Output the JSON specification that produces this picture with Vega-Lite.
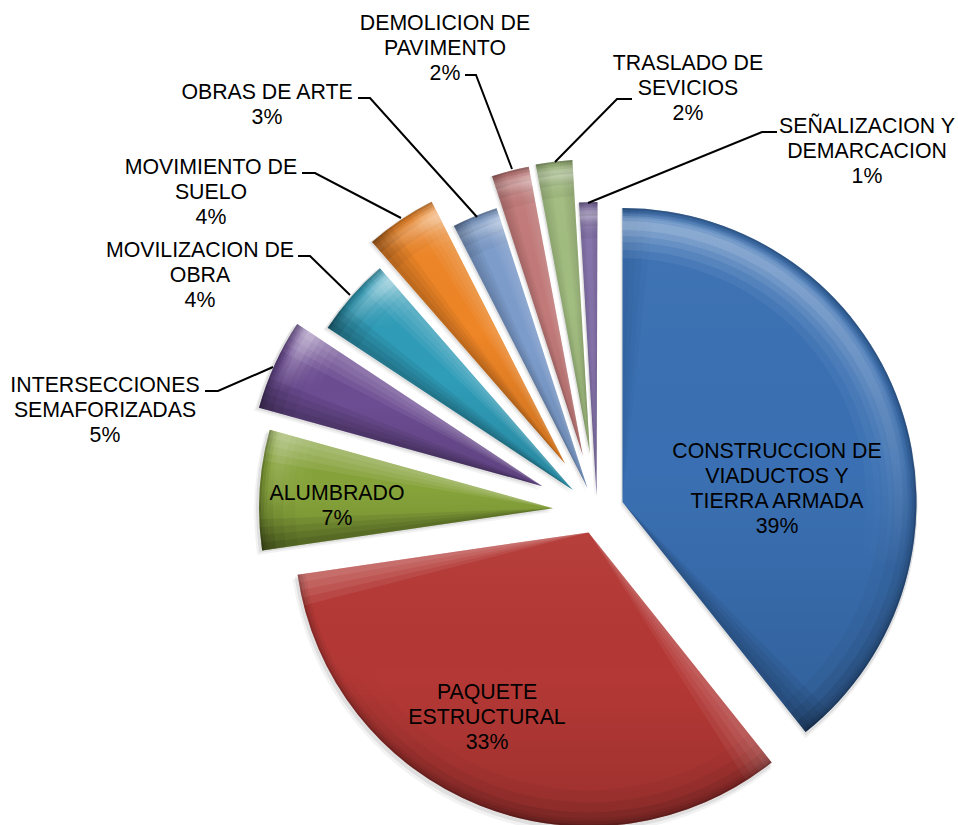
{
"$schema":"https://vega.github.io/schema/vega-lite/v6.json",
"width":958,"height":825,"padding":0,"autosize":"none","background":"white",
"config":{"view":{"stroke":null}},
"datasets":{
"slices":[
{"ord":1,"name":"CONSTRUCCION DE VIADUCTOS Y TIERRA ARMADA","pct":39.3,"explode":27,"label":"CONSTRUCCION DE\nVIADUCTOS Y\nTIERRA ARMADA\n39%","lx":180,"ly":59},
{"ord":2,"name":"PAQUETE ESTRUCTURAL","pct":33.4,"explode":23,"label":"PAQUETE\nESTRUCTURAL\n33%","lx":-110,"ly":-182},
{"ord":3,"name":"ALUMBRADO","pct":6.6,"explode":44,"label":"ALUMBRADO\n7%","lx":-260,"ly":17},
{"ord":4,"name":"INTERSECCIONES SEMAFORIZADAS","pct":5.0,"explode":60,"label":"INTERSECCIONES\nSEMAFORIZADAS\n5%","lx":-492,"ly":125},
{"ord":5,"name":"MOVILIZACION DE OBRA","pct":4.3,"explode":32,"label":"MOVILIZACION DE\nOBRA\n4%","lx":-397,"ly":260},
{"ord":6,"name":"MOVIMIENTO DE SUELO","pct":3.9,"explode":57,"label":"MOVIMIENTO DE\nSUELO\n4%","lx":-386,"ly":343},
{"ord":7,"name":"OBRAS DE ARTE","pct":2.5,"explode":25,"label":"OBRAS DE ARTE\n3%","lx":-330,"ly":418},
{"ord":8,"name":"DEMOLICION DE PAVIMENTO","pct":2.05,"explode":57,"label":"DEMOLICION DE\nPAVIMENTO\n2%","lx":-152,"ly":487},
{"ord":9,"name":"TRASLADO DE SEVICIOS","pct":2.0,"explode":58,"label":"TRASLADO DE\nSEVICIOS\n2%","lx":91,"ly":447},
{"ord":10,"name":"SEÑALIZACION Y DEMARCACION","pct":1.0,"explode":15,"label":"SEÑALIZACION Y\nDEMARCACION\n1%","lx":270,"ly":384}
],
"leaders":[
{"id":"a","s":1,"x":-392,"y":120},{"id":"a","s":2,"x":-379,"y":120},{"id":"a","s":3,"x":-324,"y":144},
{"id":"b","s":1,"x":-299,"y":255},{"id":"b","s":2,"x":-287,"y":255},{"id":"b","s":3,"x":-247,"y":216},
{"id":"c","s":1,"x":-295,"y":338},{"id":"c","s":2,"x":-282,"y":338},{"id":"c","s":3,"x":-196,"y":293},
{"id":"d","s":1,"x":-239,"y":413},{"id":"d","s":2,"x":-227,"y":413},{"id":"d","s":3,"x":-120,"y":294},
{"id":"e","s":1,"x":-132,"y":436},{"id":"e","s":2,"x":-121,"y":436},{"id":"e","s":3,"x":-85,"y":342},
{"id":"f","s":1,"x":35,"y":412},{"id":"f","s":2,"x":20,"y":412},{"id":"f","s":3,"x":-42,"y":349},
{"id":"g","s":1,"x":180,"y":379},{"id":"g","s":2,"x":165,"y":379},{"id":"g","s":3,"x":-9,"y":308}
]
},
"layer":[
{
"data":{"name":"slices"},
"transform":[
{"stack":"pct","sort":[{"field":"ord","order":"ascending"}],"as":["p0","p1"]},
{"calculate":"(datum.p0+datum.p1)/2*2*PI/100","as":"mid"},
{"calculate":"datum.explode*sin(datum.mid)","as":"ax"},
{"calculate":"datum.explode*cos(datum.mid)","as":"ay"},
{"calculate":"min(0.34*(datum.p1-datum.p0),1.7)","as":"bw"},
{"calculate":"datum.p0+datum.bw","as":"s1"},
{"calculate":"datum.p0+datum.bw*0.75","as":"s2"},
{"calculate":"datum.p0+datum.bw*0.5","as":"s3"},
{"calculate":"datum.p0+datum.bw*0.25","as":"s4"},
{"calculate":"datum.p1-datum.bw","as":"e1"},
{"calculate":"datum.p1-datum.bw*0.75","as":"e2"},
{"calculate":"datum.p1-datum.bw*0.5","as":"e3"},
{"calculate":"datum.p1-datum.bw*0.25","as":"e4"},
{"calculate":"sin(datum.p0*2*PI/100)","as":"sl"},
{"calculate":"-sin(datum.p1*2*PI/100)","as":"el"},
{"calculate":"datum.sl>0.1?'white':'black'","as":"sc"},
{"calculate":"datum.el>0.1?'white':'black'","as":"ec"},
{"calculate":"(datum.sl>0.1?0.055:0.05)*(0.4+abs(datum.sl))","as":"so"},
{"calculate":"(datum.el>0.1?0.055:0.05)*(0.4+abs(datum.el))","as":"eo"},
{"calculate":"clamp(0.25+1.5*cos(datum.mid),0,1)","as":"rf"}
],
"encoding":{
"x":{"field":"ax","type":"quantitative","axis":null,"scale":{"domain":[-597,361],"nice":false,"zero":false}},
"y":{"field":"ay","type":"quantitative","axis":null,"scale":{"domain":[-314,511],"nice":false,"zero":false}},
"theta":{"field":"p0","type":"quantitative","scale":{"domain":[0,100]}},
"theta2":{"field":"p1"}
},
"layer":[
{"mark":{"type":"arc","outerRadius":297,"fill":"black","opacity":0.05,"yOffset":4,"xOffset":-2}},
{"mark":{"type":"arc","outerRadius":296,"fill":"black","opacity":0.08,"yOffset":2,"xOffset":-1}},
{"mark":{"type":"arc","outerRadius":294},
 "encoding":{"color":{"field":"name","type":"nominal","legend":null,"sort":null,
  "scale":{"domain":["CONSTRUCCION DE VIADUCTOS Y TIERRA ARMADA","PAQUETE ESTRUCTURAL","ALUMBRADO","INTERSECCIONES SEMAFORIZADAS","MOVILIZACION DE OBRA","MOVIMIENTO DE SUELO","OBRAS DE ARTE","DEMOLICION DE PAVIMENTO","TRASLADO DE SEVICIOS","SEÑALIZACION Y DEMARCACION"],
  "range":["#3A70B3","#B43835","#86A33A","#6C4C92","#2F9CB8","#EE8526","#7C9CCB","#C27A79","#A2BD80","#8371A8"]}}}},
{"mark":{"type":"arc","outerRadius":294,"fill":{"gradient":"linear","x1":0,"y1":0,"x2":0,"y2":1,"stops":[{"offset":0,"color":"rgba(255,255,255,0.04)"},{"offset":0.5,"color":"rgba(0,0,0,0)"},{"offset":1,"color":"rgba(0,0,0,0.14)"}]}}},
{"mark":{"type":"arc","outerRadius":294},"encoding":{"theta2":{"field":"s1"},"fill":{"field":"sc","type":"nominal","scale":null},"fillOpacity":{"field":"so","type":"quantitative","scale":null}}},
{"mark":{"type":"arc","outerRadius":294},"encoding":{"theta2":{"field":"s2"},"fill":{"field":"sc","type":"nominal","scale":null},"fillOpacity":{"field":"so","type":"quantitative","scale":null}}},
{"mark":{"type":"arc","outerRadius":294},"encoding":{"theta2":{"field":"s3"},"fill":{"field":"sc","type":"nominal","scale":null},"fillOpacity":{"field":"so","type":"quantitative","scale":null}}},
{"mark":{"type":"arc","outerRadius":294},"encoding":{"theta2":{"field":"s4"},"fill":{"field":"sc","type":"nominal","scale":null},"fillOpacity":{"field":"so","type":"quantitative","scale":null}}},
{"mark":{"type":"arc","outerRadius":294},"encoding":{"theta":{"field":"e1","type":"quantitative","scale":{"domain":[0,100]}},"fill":{"field":"ec","type":"nominal","scale":null},"fillOpacity":{"field":"eo","type":"quantitative","scale":null}}},
{"mark":{"type":"arc","outerRadius":294},"encoding":{"theta":{"field":"e2","type":"quantitative","scale":{"domain":[0,100]}},"fill":{"field":"ec","type":"nominal","scale":null},"fillOpacity":{"field":"eo","type":"quantitative","scale":null}}},
{"mark":{"type":"arc","outerRadius":294},"encoding":{"theta":{"field":"e3","type":"quantitative","scale":{"domain":[0,100]}},"fill":{"field":"ec","type":"nominal","scale":null},"fillOpacity":{"field":"eo","type":"quantitative","scale":null}}},
{"mark":{"type":"arc","outerRadius":294},"encoding":{"theta":{"field":"e4","type":"quantitative","scale":{"domain":[0,100]}},"fill":{"field":"ec","type":"nominal","scale":null},"fillOpacity":{"field":"eo","type":"quantitative","scale":null}}},
{"mark":{"type":"arc","innerRadius":244,"outerRadius":290,"fill":{"gradient":"linear","x1":0,"y1":0,"x2":0,"y2":1,"stops":[{"offset":0,"color":"rgba(255,255,255,0.09)"},{"offset":0.7,"color":"rgba(255,255,255,0)"}]}},"encoding":{"fillOpacity":{"field":"rf","type":"quantitative","scale":null}}},
{"mark":{"type":"arc","innerRadius":252,"outerRadius":288,"fill":{"gradient":"linear","x1":0,"y1":0,"x2":0,"y2":1,"stops":[{"offset":0,"color":"rgba(255,255,255,0.11)"},{"offset":0.7,"color":"rgba(255,255,255,0)"}]}},"encoding":{"fillOpacity":{"field":"rf","type":"quantitative","scale":null}}},
{"mark":{"type":"arc","innerRadius":260,"outerRadius":286,"fill":{"gradient":"linear","x1":0,"y1":0,"x2":0,"y2":1,"stops":[{"offset":0,"color":"rgba(255,255,255,0.13)"},{"offset":0.7,"color":"rgba(255,255,255,0)"}]}},"encoding":{"fillOpacity":{"field":"rf","type":"quantitative","scale":null}}},
{"mark":{"type":"arc","innerRadius":266,"outerRadius":284,"fill":{"gradient":"linear","x1":0,"y1":0,"x2":0,"y2":1,"stops":[{"offset":0,"color":"rgba(255,255,255,0.15)"},{"offset":0.7,"color":"rgba(255,255,255,0)"}]}},"encoding":{"fillOpacity":{"field":"rf","type":"quantitative","scale":null}}},
{"mark":{"type":"arc","innerRadius":272,"outerRadius":281,"fill":{"gradient":"linear","x1":0,"y1":0,"x2":0,"y2":1,"stops":[{"offset":0,"color":"rgba(255,255,255,0.17)"},{"offset":0.7,"color":"rgba(255,255,255,0)"}]}},"encoding":{"fillOpacity":{"field":"rf","type":"quantitative","scale":null}}},
{"mark":{"type":"arc","innerRadius":258,"outerRadius":294,"fill":{"gradient":"linear","x1":0,"y1":0,"x2":0,"y2":1,"stops":[{"offset":0.3,"color":"rgba(0,0,0,0)"},{"offset":1,"color":"rgba(0,0,0,0.05)"}]}}},
{"mark":{"type":"arc","innerRadius":270,"outerRadius":294,"fill":{"gradient":"linear","x1":0,"y1":0,"x2":0,"y2":1,"stops":[{"offset":0.3,"color":"rgba(0,0,0,0)"},{"offset":1,"color":"rgba(0,0,0,0.07)"}]}}},
{"mark":{"type":"arc","innerRadius":280,"outerRadius":294,"fill":{"gradient":"linear","x1":0,"y1":0,"x2":0,"y2":1,"stops":[{"offset":0.3,"color":"rgba(0,0,0,0)"},{"offset":1,"color":"rgba(0,0,0,0.1)"}]}}},
{"mark":{"type":"arc","innerRadius":286,"outerRadius":294,"fill":"black","opacity":0.05}},
{"mark":{"type":"arc","innerRadius":289,"outerRadius":294,"fill":"black","opacity":0.08}},
{"mark":{"type":"arc","innerRadius":292,"outerRadius":294,"fill":"black","opacity":0.14}},
{"mark":{"type":"text","font":"Liberation Sans","fontSize":21.3,"lineHeight":25,"lineBreak":"\n","align":"center","baseline":"middle","color":"black"},
 "encoding":{"theta":null,"theta2":null,"x":{"field":"lx","type":"quantitative","axis":null,"scale":{"domain":[-597,361],"nice":false,"zero":false}},"y":{"field":"ly","type":"quantitative","axis":null,"scale":{"domain":[-314,511],"nice":false,"zero":false}},"text":{"field":"label"}}}
]
},
{
"data":{"name":"leaders"},
"mark":{"type":"line","color":"black","strokeWidth":2,"interpolate":"linear"},
"encoding":{
"x":{"field":"x","type":"quantitative","axis":null,"scale":{"domain":[-597,361],"nice":false,"zero":false}},
"y":{"field":"y","type":"quantitative","axis":null,"scale":{"domain":[-314,511],"nice":false,"zero":false}},
"detail":{"field":"id"},
"order":{"field":"s","type":"quantitative"}
}
}
]
}
